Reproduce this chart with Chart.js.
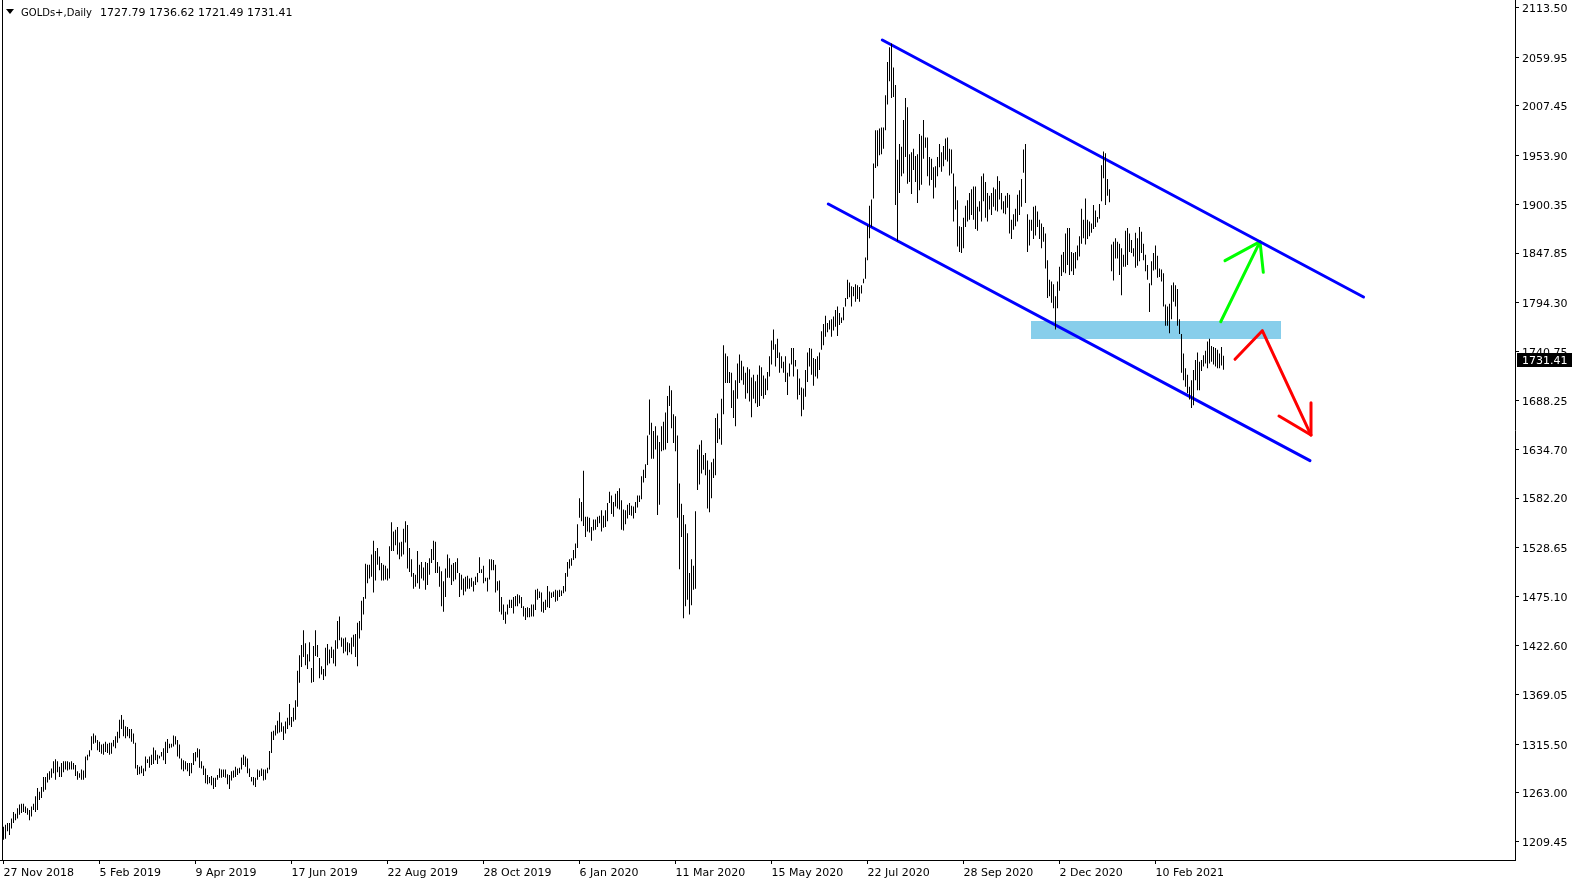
<!DOCTYPE html>
<html>
<head>
<meta charset="utf-8">
<title>GOLDs+ Daily</title>
<script src="https://cdn.jsdelivr.net/npm/chart.js@4.4.1/dist/chart.umd.min.js"></script>
<style>
  html, body { margin: 0; padding: 0; background: #fff; }
  #wrap { position: relative; width: 1579px; height: 884px; }
</style>
</head>
<body>
<div id="wrap"><canvas id="goldChart"></canvas></div>
<script>
// header text
const symbolName = 'GOLDs+,Daily';
const lastOHLC = ['1727.79', '1736.62', '1721.49', '1731.41'];
const lastClose = 1731.41;

// date labels under the chart, one every 48 bars
const dateLabels = ['27 Nov 2018', '5 Feb 2019', '9 Apr 2019', '17 Jun 2019', '22 Aug 2019',
  '28 Oct 2019', '6 Jan 2020', '11 Mar 2020', '15 May 2020', '22 Jul 2020',
  '28 Sep 2020', '2 Dec 2020', '10 Feb 2021'];
const labelStep = 48;

// price labels on the right
const priceTicks = [2113.50, 2059.95, 2007.45, 1953.90, 1900.35, 1847.85, 1794.30, 1740.75,
  1688.25, 1634.70, 1582.20, 1528.65, 1475.10, 1422.60, 1369.05, 1315.50, 1263.00, 1209.45];

// daily highs, bar 0 = 27 Nov 2018
const highs = [
  1226,1228,1230,1230,1235,1242,1240,1246,1250,1251,
  1251,1248,1246,1244,1248,1251,1259,1268,1264,1269,
  1280,1280,1284,1286,1289,1297,1299,1297,1291,1295,
  1297,1297,1297,1296,1297,1295,1293,1286,1284,1288,
  1287,1302,1304,1309,1324,1327,1325,1320,1318,1315,
  1316,1318,1316,1317,1317,1320,1324,1329,1342,1347,
  1342,1335,1334,1332,1332,1327,1317,1293,1291,1292,
  1289,1302,1299,1302,1304,1312,1309,1304,1303,1307,
  1311,1318,1321,1316,1316,1325,1324,1320,1315,1300,
  1298,1297,1295,1295,1295,1306,1307,1311,1310,1297,
  1292,1289,1282,1280,1281,1279,1279,1282,1289,1288,
  1288,1288,1283,1282,1286,1287,1291,1289,1290,1301,
  1304,1302,1300,1289,1280,1280,1279,1288,1287,1289,
  1288,1288,1290,1308,1329,1330,1336,1341,1350,1339,
  1335,1340,1344,1359,1345,1355,1363,1395,1412,1423,
  1439,1425,1413,1426,1398,1422,1439,1423,1409,1400,
  1397,1420,1424,1418,1421,1418,1428,1449,1454,1431,
  1430,1431,1426,1425,1431,1434,1435,1447,1449,1471,
  1475,1511,1510,1510,1521,1536,1525,1528,1519,1512,
  1510,1509,1506,1530,1556,1546,1548,1551,1534,1535,
  1549,1557,1553,1528,1516,1501,1499,1525,1510,1513,
  1507,1513,1512,1517,1527,1536,1535,1513,1508,1503,
  1492,1506,1521,1517,1510,1512,1513,1517,1501,1499,
  1495,1497,1498,1495,1496,1492,1497,1501,1518,1505,
  1509,1496,1496,1516,1516,1515,1510,1492,1493,1475,
  1467,1459,1467,1472,1472,1475,1476,1478,1477,1475,
  1465,1463,1464,1463,1467,1467,1483,1484,1481,1480,
  1470,1472,1487,1481,1480,1481,1483,1482,1483,1482,
  1487,1501,1513,1516,1517,1526,1533,1554,1582,1578,
  1612,1562,1562,1561,1551,1559,1559,1562,1563,1569,
  1563,1569,1577,1589,1585,1578,1587,1590,1593,1580,
  1570,1569,1575,1577,1574,1573,1578,1585,1585,1606,
  1613,1619,1650,1689,1664,1655,1660,1650,1643,1660,
  1665,1675,1693,1704,1699,1673,1671,1650,1598,1576,
  1564,1554,1544,1501,1516,1509,1568,1635,1640,1645,
  1629,1631,1623,1613,1621,1625,1669,1674,1658,1690,
  1748,1739,1736,1719,1718,1699,1710,1728,1738,1731,
  1725,1718,1724,1722,1713,1716,1709,1716,1726,1724,
  1715,1712,1719,1736,1753,1765,1749,1755,1740,1736,
  1730,1736,1718,1728,1745,1745,1732,1722,1712,1702,
  1701,1721,1740,1745,1744,1734,1733,1736,1740,1763,
  1771,1780,1772,1775,1776,1779,1786,1790,1783,1778,
  1789,1799,1819,1816,1812,1811,1814,1813,1811,1813,
  1820,1843,1878,1899,1906,1945,1981,1981,1983,1984,
  1984,2019,2055,2071,2075,2049,2030,1949,1966,1963,
  1992,2016,2006,1955,1957,1961,1953,1955,1977,1975,
  1992,1973,1973,1952,1950,1941,1942,1952,1966,1957,
  1964,1972,1973,1961,1960,1934,1920,1905,1877,1876,
  1886,1899,1905,1913,1917,1920,1920,1898,1904,1931,
  1934,1925,1913,1910,1913,1919,1917,1931,1926,1913,
  1904,1910,1913,1911,1884,1890,1896,1911,1916,1928,
  1960,1966,1890,1884,1884,1898,1899,1893,1884,1880,
  1876,1869,1840,1819,1817,1814,1801,1817,1833,1846,
  1849,1869,1875,1875,1849,1848,1849,1856,1866,1896,
  1884,1907,1884,1882,1880,1900,1894,1887,1901,1943,
  1958,1956,1928,1917,1857,1860,1864,1860,1858,1853,
  1846,1872,1875,1869,1862,1853,1870,1864,1876,1871,
  1858,1846,1835,1815,1839,1848,1856,1845,1831,1830,
  1826,1792,1790,1793,1813,1816,1813,1809,1776,1760,
  1739,1723,1716,1703,1710,1721,1732,1740,1730,1732,
  1737,1742,1752,1755,1747,1746,1745,1743,1739,1746,
  1736.62
];

// daily lows
const lows = [
  1212,1213,1221,1217,1224,1230,1233,1235,1239,1241,
  1242,1241,1239,1233,1237,1244,1242,1244,1255,1257,
  1264,1266,1274,1277,1279,1284,1277,1285,1280,1280,
  1285,1288,1287,1288,1288,1288,1281,1277,1279,1277,
  1277,1279,1298,1302,1309,1316,1317,1309,1307,1305,
  1304,1307,1306,1304,1305,1313,1311,1317,1322,1332,
  1324,1322,1324,1322,1318,1316,1289,1282,1283,1284,
  1281,1286,1295,1290,1293,1294,1298,1294,1300,1302,
  1298,1294,1306,1311,1312,1313,1315,1302,1300,1288,
  1286,1288,1286,1281,1284,1293,1297,1301,1290,1289,
  1282,1273,1272,1273,1271,1267,1269,1277,1279,1279,
  1280,1279,1272,1267,1276,1279,1280,1282,1284,1288,
  1293,1291,1284,1280,1275,1271,1269,1277,1280,1281,
  1276,1277,1284,1288,1306,1320,1325,1327,1328,1329,
  1320,1327,1332,1336,1334,1340,1342,1356,1382,1399,
  1410,1401,1397,1405,1382,1383,1411,1410,1387,1391,
  1385,1389,1401,1403,1409,1403,1400,1419,1428,1421,
  1414,1416,1412,1415,1413,1421,1410,1400,1430,1439,
  1456,1473,1490,1495,1497,1480,1493,1510,1504,1493,
  1493,1494,1493,1495,1525,1525,1531,1521,1516,1519,
  1521,1534,1506,1502,1497,1484,1486,1490,1484,1495,
  1493,1483,1488,1499,1512,1515,1501,1501,1486,1465,
  1459,1475,1496,1496,1488,1492,1494,1501,1475,1483,
  1477,1481,1484,1484,1486,1481,1488,1491,1501,1501,
  1490,1492,1481,1494,1504,1504,1480,1482,1459,1456,
  1450,1446,1456,1463,1463,1457,1465,1465,1468,1463,
  1454,1450,1453,1453,1454,1454,1461,1472,1474,1459,
  1458,1461,1464,1463,1474,1475,1470,1471,1475,1476,
  1479,1481,1497,1506,1509,1515,1517,1528,1561,1557,
  1552,1540,1546,1545,1536,1547,1548,1551,1555,1546,
  1550,1551,1557,1577,1565,1562,1573,1571,1570,1548,
  1547,1554,1560,1564,1563,1560,1566,1572,1578,1581,
  1599,1604,1618,1651,1625,1625,1635,1564,1575,1633,
  1634,1635,1642,1682,1658,1642,1633,1561,1505,1540,
  1452,1465,1472,1456,1466,1483,1484,1591,1597,1609,
  1613,1607,1571,1567,1582,1604,1607,1642,1646,1640,
  1673,1707,1707,1707,1680,1669,1660,1690,1707,1710,
  1705,1690,1696,1687,1670,1690,1685,1681,1682,1693,
  1690,1694,1699,1714,1727,1743,1725,1734,1718,1723,
  1718,1708,1694,1714,1727,1714,1725,1689,1694,1671,
  1678,1692,1708,1725,1716,1704,1714,1712,1721,1743,
  1748,1757,1762,1765,1757,1764,1768,1758,1770,1772,
  1775,1790,1798,1800,1790,1801,1795,1798,1795,1804,
  1815,1820,1840,1864,1876,1907,1940,1942,1954,1955,
  1961,1981,2009,2034,2016,2017,1900,1861,1913,1931,
  1934,1952,1923,1925,1912,1938,1925,1902,1916,1922,
  1950,1962,1931,1921,1927,1907,1919,1931,1941,1936,
  1942,1949,1947,1932,1934,1882,1895,1855,1849,1848,
  1853,1876,1882,1884,1889,1884,1874,1872,1893,1882,
  1904,1886,1882,1895,1889,1898,1894,1893,1906,1895,
  1891,1890,1897,1869,1863,1873,1877,1882,1889,1898,
  1935,1902,1849,1856,1872,1863,1867,1876,1863,1853,
  1860,1831,1799,1801,1794,1788,1765,1788,1807,1823,
  1827,1826,1835,1824,1828,1824,1831,1840,1844,1858,
  1864,1857,1863,1866,1870,1874,1876,1881,1885,1904,
  1929,1900,1910,1903,1828,1818,1842,1842,1824,1802,
  1833,1833,1835,1849,1848,1844,1832,1834,1839,1848,
  1840,1828,1819,1784,1813,1829,1830,1821,1822,1817,
  1790,1769,1769,1761,1776,1795,1790,1769,1760,1718,
  1710,1703,1696,1689,1680,1683,1710,1699,1699,1720,
  1725,1728,1723,1728,1730,1727,1725,1723,1723,1726,
  1721.49
];

// drawn objects, as [bar, price]
const upperChannel = [[439.4, 2078.8], [680.0, 1800.2]];
const lowerChannel = [[412.4, 1901.0], [653.25, 1622.8]];
const zoneBars = [513.75, 638.75];
const zonePrices = [1774.2, 1754.7];
const greenArrow = [[608.6, 1773.4], [628.25, 1860.2]];
const greenHead = [[610.75, 1839.6], [628.25, 1860.2], [629.9, 1827.0]];
const redArrow = [[615.75, 1732.7], [629.4, 1763.7], [653.75, 1650.6]];
const redHead = [[653.75, 1685.6], [653.75, 1650.6], [637.75, 1671.2]];

const bars = highs.map((h, i) => ({ x: i, y: [lows[i], h] }));
const toPts = arr => arr.map(p => ({ x: p[0], y: p[1] }));

function lineSet(points, color) {
  return {
    type: 'line',
    data: toPts(points),
    borderColor: color,
    borderWidth: 3,
    borderCapStyle: 'round',
    borderJoinStyle: 'round',
    pointRadius: 0,
    fill: false,
    tension: 0,
    order: 1
  };
}

const fontAxis = { family: 'DejaVu Sans', size: 11 };

const zonePlugin = {
  id: 'zone',
  beforeDatasetsDraw(chart) {
    const { ctx, scales: { x, y } } = chart;
    const x0 = x.getPixelForValue(zoneBars[0]);
    const x1 = x.getPixelForValue(zoneBars[1]);
    const y0 = y.getPixelForValue(zonePrices[0]);
    const y1 = y.getPixelForValue(zonePrices[1]);
    ctx.save();
    ctx.fillStyle = '#87ceeb';
    ctx.fillRect(x0, y0, x1 - x0, y1 - y0);
    ctx.restore();
  }
};

const framePlugin = {
  id: 'frame',
  afterDraw(chart) {
    const { ctx, chartArea, scales: { y } } = chart;
    ctx.save();
    // left border
    ctx.strokeStyle = '#000';
    ctx.lineWidth = 1;
    ctx.beginPath();
    ctx.moveTo(2.5, 0);
    ctx.lineTo(2.5, chartArea.bottom);
    ctx.stroke();

    // header
    ctx.fillStyle = '#000';
    ctx.beginPath();
    ctx.moveTo(6, 9);
    ctx.lineTo(14, 9);
    ctx.lineTo(10, 14);
    ctx.closePath();
    ctx.fill();
    ctx.font = '11px "DejaVu Sans"';
    ctx.textBaseline = 'middle';
    ctx.fillText(symbolName, 21, 13, 71);
    ctx.fillText(lastOHLC.join(' '), 100, 13);

    // last price box on the price scale
    const py = Math.round(y.getPixelForValue(lastClose));
    ctx.fillStyle = '#000';
    ctx.fillRect(chartArea.right + 2, py - 7, 55, 14);
    ctx.fillStyle = '#fff';
    ctx.fillText(lastClose.toFixed(2), chartArea.right + 7, py + 1);
    ctx.restore();
  }
};

new Chart(document.getElementById('goldChart'), {
  type: 'bar',
  data: {
    datasets: [
      {
        data: bars,
        backgroundColor: '#000',
        borderWidth: 0,
        barThickness: 1,
        inflateAmount: 0,
        grouped: false,
        order: 0
      },
      lineSet(upperChannel, '#0000ff'),
      lineSet(lowerChannel, '#0000ff'),
      lineSet(greenArrow, '#00ff00'),
      lineSet(greenHead, '#00ff00'),
      lineSet(redArrow, '#ff0000'),
      lineSet(redHead, '#ff0000')
    ]
  },
  options: {
    responsive: true,
    maintainAspectRatio: false,
    animation: false,
    devicePixelRatio: 1,
    layout: { padding: 0 },
    plugins: {
      legend: { display: false },
      tooltip: { enabled: false }
    },
    scales: {
      x: {
        type: 'linear',
        min: -1.75,
        max: 755.75,
        offset: false,
        grid: { drawOnChartArea: false, drawTicks: true, tickLength: 4, tickColor: '#000', offset: false },
        border: { display: true, color: '#000' },
        ticks: {
          font: fontAxis,
          color: '#000',
          align: 'start',
          maxRotation: 0,
          autoSkip: false,
          padding: 3,
          callback: v => dateLabels[Math.round(v / labelStep)]
        },
        afterBuildTicks: s => { s.ticks = dateLabels.map((d, k) => ({ value: k * labelStep })); },
        afterFit: s => {
          s.height = 24;
          s.paddingLeft = 0; s.paddingRight = 0; s.paddingTop = 0; s.paddingBottom = 0;
        }
      },
      y: {
        position: 'right',
        min: 1189.92,
        max: 2122.17,
        grid: { drawOnChartArea: false, drawTicks: true, tickLength: 4, tickColor: '#000' },
        border: { display: true, color: '#000' },
        ticks: {
          font: fontAxis,
          color: '#000',
          padding: 3,
          labelOffset: 1.5,
          callback: v => Number(v).toFixed(2)
        },
        afterBuildTicks: s => { s.ticks = priceTicks.map(v => ({ value: v })); },
        afterFit: s => {
          s.width = 64;
          s.paddingLeft = 0; s.paddingRight = 0; s.paddingTop = 0; s.paddingBottom = 0;
        }
      }
    }
  },
  plugins: [zonePlugin, framePlugin]
});
</script>
</body>
</html>
